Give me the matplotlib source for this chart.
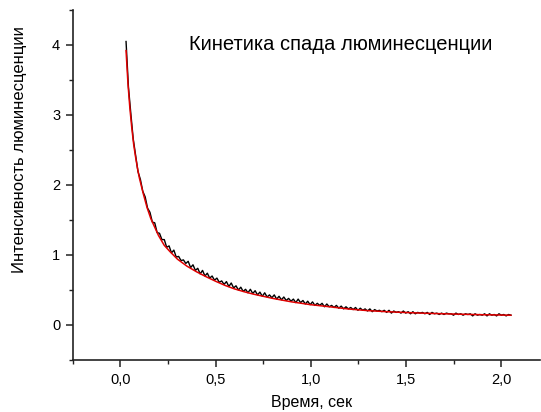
import numpy as np
import matplotlib
matplotlib.use("Agg")
import matplotlib.pyplot as plt
from matplotlib import font_manager
from matplotlib.ticker import MultipleLocator, FuncFormatter

# ---- data ----
fit_t = [0.03, 0.04, 0.05, 0.06, 0.07, 0.08, 0.09, 0.10, 0.12, 0.14, 0.16, 0.18,
         0.20, 0.23, 0.26, 0.30, 0.35, 0.40, 0.45, 0.50, 0.55, 0.60, 0.65, 0.70,
         0.80, 0.90, 1.00, 1.10, 1.20, 1.30, 1.40, 1.50, 1.60, 1.70, 1.80, 1.90, 2.05]
fit_v = [3.92, 3.45, 3.10, 2.82, 2.58, 2.40, 2.24, 2.10, 1.88, 1.68, 1.52, 1.40,
         1.28, 1.14, 1.05, 0.94, 0.84, 0.76, 0.69, 0.625, 0.565, 0.515, 0.475, 0.44,
         0.38, 0.33, 0.29, 0.26, 0.228, 0.205, 0.19, 0.178, 0.168, 0.16, 0.153, 0.147, 0.14]

data_v = [4.05, 3.40, 3.02, 2.66, 2.43, 2.19, 2.08, 1.91, 1.83, 1.67,
          1.61, 1.47, 1.46, 1.32, 1.31, 1.22, 1.22, 1.11, 1.13, 1.03,
          1.07, 0.97, 0.98, 0.92, 0.93, 0.88, 0.91, 0.82, 0.86, 0.78,
          0.81, 0.73, 0.78, 0.70, 0.74, 0.67, 0.70, 0.64, 0.67, 0.61,
          0.63, 0.58, 0.62, 0.55, 0.60, 0.53, 0.56, 0.50, 0.54, 0.48,
          0.51, 0.46, 0.51, 0.45, 0.49, 0.43, 0.47, 0.41, 0.46, 0.40,
          0.43, 0.39, 0.43, 0.37, 0.41, 0.36, 0.40, 0.35, 0.38, 0.34,
          0.37, 0.32, 0.37, 0.32, 0.35, 0.30, 0.34, 0.29, 0.33, 0.28,
          0.31, 0.28, 0.31, 0.26, 0.30, 0.26, 0.28, 0.25, 0.28, 0.24,
          0.27, 0.23, 0.26, 0.23, 0.25, 0.22, 0.25, 0.21, 0.24, 0.21,
          0.23, 0.20, 0.23, 0.19, 0.22, 0.20, 0.21, 0.19, 0.21, 0.18,
          0.21, 0.17, 0.20, 0.18, 0.19, 0.17, 0.20, 0.17, 0.19, 0.16,
          0.19, 0.16, 0.18, 0.17, 0.18, 0.16, 0.18, 0.15, 0.18, 0.16,
          0.17, 0.15, 0.17, 0.15, 0.17, 0.16, 0.16, 0.14, 0.17, 0.15,
          0.16, 0.14, 0.16, 0.15, 0.16, 0.13, 0.16, 0.14, 0.15, 0.14,
          0.16, 0.13, 0.16, 0.14, 0.15, 0.13, 0.16, 0.14, 0.15, 0.13,
          0.15, 0.14]
data_t = np.linspace(0.03, 2.05, len(data_v))

title_text = "Кинетика спада люминесценции"
xlabel_text = "Время, сек"
ylabel_text = "Интенсивность люминесценции"
xticks = [0.0, 0.5, 1.0, 1.5, 2.0]
yticks = [0, 1, 2, 3, 4]

# ---- fonts ----
names = {f.name for f in font_manager.fontManager.ttflist}
narrow = "Liberation Sans Narrow" if "Liberation Sans Narrow" in names else "Liberation Sans"
plt.rcParams['font.family'] = ['Liberation Sans', 'DejaVu Sans']

fig = plt.figure(figsize=(5.41, 4.12), dpi=100)
l, r = 72.7 / 541, 539.5 / 541
b, t = 1 - 360 / 412, 1 - 10 / 412
ax = fig.add_axes([l, b, r - l, t - b])

ax.plot(data_t, data_v, color='black', lw=1.0)
ax.plot(fit_t, fit_v, color='#e00000', lw=1.1)

ax.set_xlim(-0.25, 2.2)
ax.set_ylim(-0.5, 4.5)
ax.set_xticks(xticks)
ax.set_yticks(yticks)
ax.xaxis.set_minor_locator(MultipleLocator(0.25))
ax.yaxis.set_minor_locator(MultipleLocator(0.5))
ax.xaxis.set_major_formatter(FuncFormatter(lambda v, p: f"{v:.1f}".replace('.', ',')))
ax.yaxis.set_major_formatter(FuncFormatter(lambda v, p: f"{int(round(v))}"))

for s in ['top', 'right']:
    ax.spines[s].set_visible(False)
for s in ['left', 'bottom']:
    ax.spines[s].set_linewidth(1.2)
    ax.spines[s].set_color('#222222')
ax.tick_params(which='major', direction='out', length=5, width=1.1, labelsize=10.5,
               colors='#222222', labelcolor='black', pad=4)
ax.tick_params(which='minor', direction='out', length=3, width=1.0, colors='#222222')
for lab in ax.get_xticklabels() + ax.get_yticklabels():
    lab.set_family(['Liberation Sans', 'DejaVu Sans'])

fig.text(341 / 541, 1 - 45 / 412, title_text, family=[narrow, 'DejaVu Sans'],
         fontsize=14.5, ha='center', va='center')
fig.text(312 / 541, 1 - 403 / 412, xlabel_text, family=[narrow, 'DejaVu Sans'],
         fontsize=11.5, ha='center', va='center')
fig.text(20 / 541, 1 - 150 / 412, ylabel_text, family=[narrow, 'DejaVu Sans'],
         fontsize=12, ha='center', va='center', rotation=90)

fig.savefig('out.png', dpi=100)
